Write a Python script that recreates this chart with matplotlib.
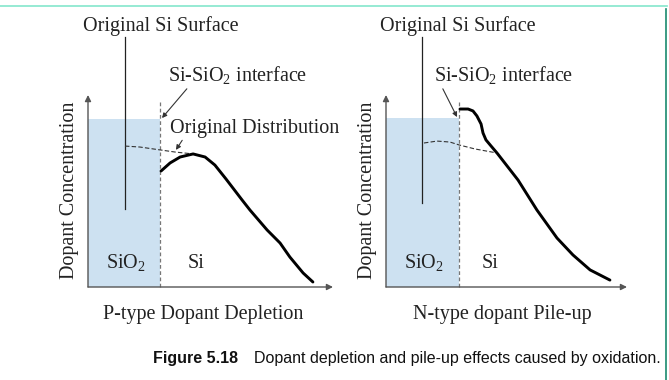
import matplotlib
matplotlib.use("Agg")
import matplotlib.pyplot as plt
from matplotlib.lines import Line2D

# depth (x) / concentration (y), arbitrary units
# left panel: P-type depletion
p_depth = [2.98, 3.35, 3.76, 4.29, 4.78, 5.18, 5.63, 6.29, 6.61, 7.31, 7.84, 8.24, 8.78, 9.18]
p_conc = [6.04, 6.46, 6.77, 6.93, 6.77, 6.35, 5.63, 4.53, 4.01, 2.97, 2.29, 1.56, 0.73, 0.26]
p_orig_depth = [1.51, 2.12, 2.94, 3.55, 4.29]
p_orig_conc = [7.34, 7.29, 7.14, 7.03, 6.93]

# right panel: N-type pile-up
n_depth = [3.02, 3.35, 3.55, 3.71, 3.88, 3.96, 4.08, 4.29, 4.53, 5.39, 6.16, 6.98, 7.63, 8.33, 9.14]
n_conc = [9.27, 9.27, 9.17, 8.91, 8.49, 8.02, 7.66, 7.34, 6.98, 5.57, 4.01, 2.55, 1.67, 0.89, 0.36]
n_orig_depth = [1.55, 2.08, 2.61, 2.98, 3.63, 4.53]
n_orig_conc = [7.50, 7.60, 7.55, 7.40, 7.19, 6.98]

interface = [2.94, 2.98]
surface = [1.51, 1.47]
oxide_top = [8.75, 8.8]
titles = ["P-type Dopant Depletion", "N-type dopant Pile-up"]

plt.rcParams["mathtext.default"] = "regular"
serif = "Liberation Serif"
fs = 14.5
tc = "#222222"
W, H = 669, 380
fig = plt.figure(figsize=(W / 100, H / 100), dpi=100)

ax_l = fig.add_axes([88 / W, 93 / H, 245 / W, 192 / H])
ax_r = fig.add_axes([386 / W, 93 / H, 241 / W, 192 / H])

panels = [
    (ax_l, p_depth, p_conc, p_orig_depth, p_orig_conc, 10.0, 4.06),
    (ax_r, n_depth, n_conc, n_orig_depth, n_orig_conc, 241 / 24.5, 4.375),
]

for i, (ax, xd, yc, xo, yo, xmax, surf_end) in enumerate(panels):
    ax.set_xlim(0, xmax)
    ax.set_ylim(0, 10)
    ax.axis("off")

    # oxide block
    ax.fill_between([0, interface[i]], 0, oxide_top[i], color="#cde1f1", lw=0)
    # interface dashed line
    ax.plot([interface[i], interface[i]], [0, 9.74], ls=(0, (3, 2)), color="#777777", lw=0.9,
            clip_on=False)
    # original surface line
    ax.plot([surface[i], surface[i]], [surf_end, 13.0], color=tc, lw=0.9, clip_on=False)

    # axes arrows
    arrow = dict(arrowstyle="-|>", color="#555555", lw=1.0, mutation_scale=9, shrinkA=0, shrinkB=0)
    ax.annotate("", xy=(0, 10), xytext=(0, 0), arrowprops=arrow, annotation_clip=False)
    ax.annotate("", xy=(xmax, 0), xytext=(0, 0), arrowprops=arrow, annotation_clip=False)

    # profiles
    ax.plot(xo, yo, ls=(0, (4, 2)), color="#333333", lw=0.8, clip_on=False)
    ax.plot(xd, yc, color="black", lw=2.1, solid_capstyle="round", solid_joinstyle="round",
            clip_on=False)

    # labels
    ax.text(surface[i] + 1.45, 13.6, "Original Si Surface", ha="center", va="center",
            family=serif, fontsize=fs, color=tc)
    ax.text(-0.75, 5.05, "Dopant Concentration", rotation=90, ha="center", va="center",
            family=serif, fontsize=fs, color=tc)
    ax.text(1.55, 1.3, "SiO$_2$", ha="center", va="center", family=serif, fontsize=fs, color=tc)
    ax.text(4.41 if i == 0 else 4.24, 1.25, "Si", ha="center", va="center", family=serif,
            fontsize=fs, color=tc)
    ax.text(4.69 if i == 0 else 4.73, -1.41, titles[i], ha="center", va="center",
            family=serif, fontsize=fs, color=tc)

small = dict(arrowstyle="-|>", color="#333333", lw=0.8, mutation_scale=7, shrinkA=0, shrinkB=0)
ax_l.annotate("Si-SiO$_2$ interface", xy=(3.02, 8.8), xytext=(6.12, 11.04), ha="center",
              va="center", family=serif, fontsize=fs, color=tc,
              arrowprops=dict(small, relpos=(0.15, 0.0)), annotation_clip=False)
ax_l.annotate("Original Distribution", xy=(3.59, 7.14), xytext=(6.82, 8.28), ha="center",
              va="center", family=serif, fontsize=fs, color=tc,
              arrowprops=dict(small, relpos=(0.08, 0.0)), annotation_clip=False)
ax_r.annotate("Si-SiO$_2$ interface", xy=(2.9, 8.85), xytext=(4.82, 11.04), ha="center",
              va="center", family=serif, fontsize=fs, color=tc,
              arrowprops=dict(small, relpos=(0.05, 0.0)), annotation_clip=False)

# caption
fig.text(153 / W, 1 - 358 / H, "Figure 5.18", ha="left", va="center",
         family="Liberation Sans", fontsize=11.5, fontweight="bold", color="#111111")
fig.text(254 / W, 1 - 358 / H, "Dopant depletion and pile-up effects caused by oxidation.",
         ha="left", va="center", family="Liberation Sans", fontsize=11.5, color="#111111")

# page decorations
fig.add_artist(Line2D([0, 667 / W], [1 - 6 / H, 1 - 6 / H], color="#84e6cc", lw=1.2))
fig.add_artist(Line2D([666 / W, 666 / W], [0, 1 - 9 / H], color="#1a8a6e", lw=1.2))

fig.savefig("out.png", dpi=100)
